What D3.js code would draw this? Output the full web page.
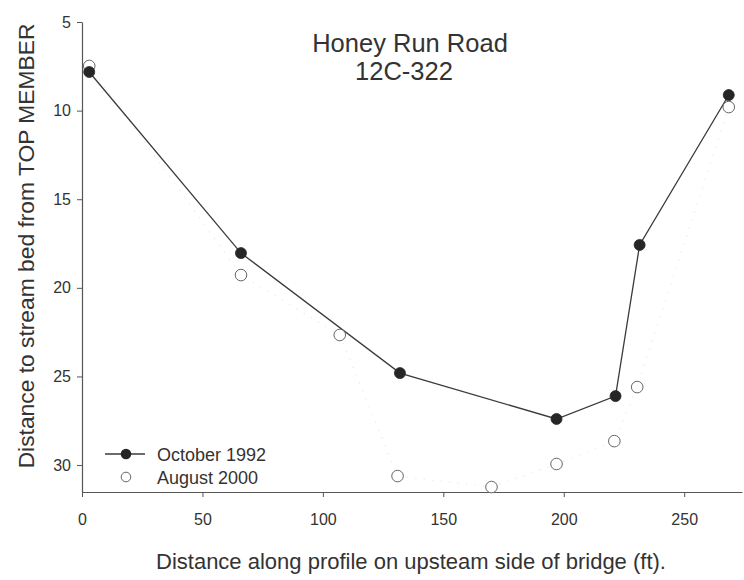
<!DOCTYPE html>
<html>
<head>
<meta charset="utf-8">
<script src="https://cdn.jsdelivr.net/npm/d3@7"></script>
<style>
  html, body { margin: 0; padding: 0; background: #fff; }
  svg { display: block; font-family: Arial, "Liberation Sans", Helvetica, sans-serif; }
</style>
</head>
<body>
<svg id="chart" width="744" height="580"></svg>
<script>
// ---- data ----
const oct1992X = [3, 66, 132, 197, 221.5, 231.5, 268.5];
const oct1992Y = [7.82, 18.04, 24.81, 27.40, 26.11, 17.58, 9.12];
const aug2000X = [3, 66, 107, 131, 170, 197, 221, 230.5, 268.5];
const aug2000Y = [7.48, 19.28, 22.66, 30.62, 31.24, 29.94, 28.65, 25.6, 9.8];
const xTicks = [0, 50, 100, 150, 200, 250];
const yTicks = [5, 10, 15, 20, 25, 30];
const seriesNames = ["October 1992", "August 2000"];
const titleLines = ["Honey Run Road", "12C-322"];
const xTitle = "Distance along profile on upsteam side of bridge (ft).";
const yTitle = "Distance to stream bed from TOP MEMBER";

(function () {
const svg = d3.select("#chart");
const mLeft = 82, mRight = 742, mTop = 22, mBottom = 492;

const x = d3.scaleLinear().domain([0, 274]).range([mLeft, mRight]);
const y = d3.scaleLinear().domain([5, 31.52]).range([mTop, mBottom]);

const axisColor = "#555";
const textColor = "#333";

// axes
const gx = svg.append("g").attr("transform", `translate(0,${mBottom})`)
  .call(d3.axisBottom(x).tickValues(xTicks).tickSize(5).tickPadding(17).tickSizeOuter(0));
const gy = svg.append("g").attr("transform", `translate(${mLeft},0)`)
  .call(d3.axisLeft(y).tickValues(yTicks).tickSize(5).tickPadding(6).tickSizeOuter(0));
[gx, gy].forEach(g => {
  g.selectAll("path.domain").attr("stroke", axisColor).attr("stroke-width", 1.2);
  g.selectAll(".tick line").attr("stroke", axisColor).attr("stroke-width", 1);
  g.selectAll(".tick text").attr("fill", textColor).style("font-size", "16px")
    .style("font-family", "Arial, 'Liberation Sans', sans-serif");
});

// axis titles
svg.append("text").attr("x", 411).attr("y", 569).attr("text-anchor", "middle")
  .attr("fill", textColor).style("font-size", "22px").text(xTitle);
svg.append("text").attr("transform", `translate(34,246) rotate(-90)`)
  .attr("text-anchor", "middle").attr("fill", textColor).style("font-size", "22.8px").text(yTitle);

// chart title
svg.append("text").attr("x", 410).attr("y", 52).attr("text-anchor", "middle")
  .attr("fill", textColor).style("font-size", "25.5px").text(titleLines[0]);
svg.append("text").attr("x", 404).attr("y", 80).attr("text-anchor", "middle")
  .attr("fill", textColor).style("font-size", "25.5px").text(titleLines[1]);

// series data
const oct = oct1992X.map((v, i) => [v, oct1992Y[i]]);
const aug = aug2000X.map((v, i) => [v, aug2000Y[i]]);
const line = d3.line().x(d => x(d[0])).y(d => y(d[1]));

// faint dotted trace for August 2000
svg.append("path").attr("d", line(aug)).attr("fill", "none")
  .attr("stroke", "#ececec").attr("stroke-width", 1.2).attr("stroke-dasharray", "1.5,7");

// October 1992 line
svg.append("path").attr("d", line(oct)).attr("fill", "none")
  .attr("stroke", "#3a3a3a").attr("stroke-width", 1.3);

// August 2000 open circles
svg.append("g").selectAll("circle").data(aug).join("circle")
  .attr("cx", d => x(d[0])).attr("cy", d => y(d[1])).attr("r", 5.8)
  .attr("fill", "#fff").attr("stroke", "#666").attr("stroke-width", 1);

// October 1992 filled circles
svg.append("g").selectAll("circle").data(oct).join("circle")
  .attr("cx", d => x(d[0])).attr("cy", d => y(d[1])).attr("r", 5.5)
  .attr("fill", "#262626").attr("stroke", "#262626").attr("stroke-width", 0.8);

// legend
const lg = svg.append("g");
lg.append("line").attr("x1", 105).attr("x2", 145).attr("y1", 454).attr("y2", 454)
  .attr("stroke", "#3a3a3a").attr("stroke-width", 1.3);
lg.append("circle").attr("cx", 126).attr("cy", 454).attr("r", 5.3).attr("fill", "#262626");
lg.append("text").attr("x", 157).attr("y", 461).attr("fill", textColor)
  .style("font-size", "18px").text(seriesNames[0]);
lg.append("circle").attr("cx", 126).attr("cy", 477).attr("r", 4.8)
  .attr("fill", "#fff").attr("stroke", "#666").attr("stroke-width", 1);
lg.append("text").attr("x", 157).attr("y", 484).attr("fill", textColor)
  .style("font-size", "18px").text(seriesNames[1]);
})();
</script>
</body>
</html>
